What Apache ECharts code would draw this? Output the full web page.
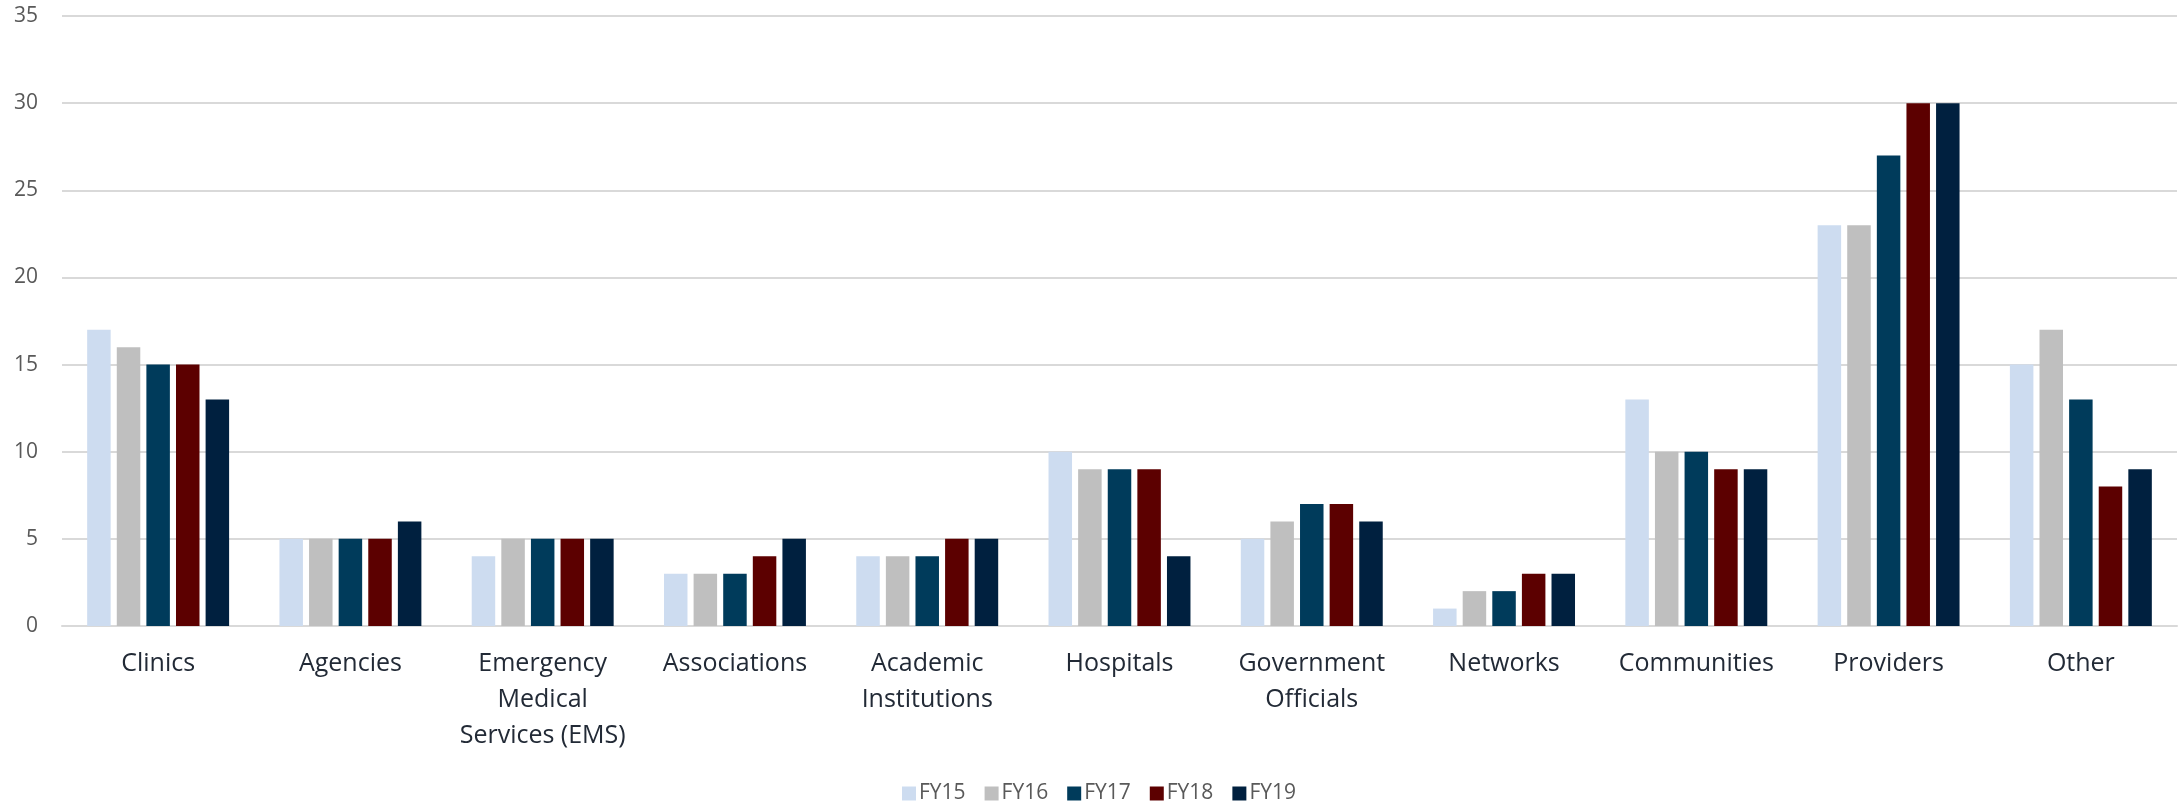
<!DOCTYPE html>
<html>
<head>
<meta charset="utf-8">
<script src="https://cdn.jsdelivr.net/npm/echarts@6/dist/echarts.min.js"></script>
<style>
  html, body { margin: 0; padding: 0; background: #ffffff; }
  #chart { width: 2178px; height: 803px; }
</style>
</head>
<body>
<div id="chart"></div>
<script>
// Stakeholder categories along the x axis
const categories = [
  'Clinics', 'Agencies', 'Emergency\nMedical\nServices (EMS)', 'Associations',
  'Academic\nInstitutions', 'Hospitals', 'Government\nOfficials', 'Networks',
  'Communities', 'Providers', 'Other'
];

// Counts per fiscal year
const fy15 = [17, 5, 4, 3, 4, 10, 5, 1, 13, 23, 15];
const fy16 = [16, 5, 5, 3, 4, 9, 6, 2, 10, 23, 17];
const fy17 = [15, 5, 5, 3, 4, 9, 7, 2, 10, 27, 13];
const fy18 = [15, 5, 5, 4, 5, 9, 7, 3, 9, 30, 8];
const fy19 = [13, 6, 5, 5, 5, 4, 6, 3, 9, 30, 9];

const seriesNames = ['FY15', 'FY16', 'FY17', 'FY18', 'FY19'];
const seriesData = [fy15, fy16, fy17, fy18, fy19];
const seriesColors = ['#cddcf0', '#bfbfbf', '#003b5b', '#5c0000', '#00203f'];

// Y axis range and step
const yMin = 0, yMax = 35, yStep = 5;

const chart = echarts.init(document.getElementById('chart'));

chart.setOption({
  animation: false,
  backgroundColor: '#ffffff',
  textStyle: { fontFamily: '"Open Sans", "Noto Sans", sans-serif' },
  grid: { left: 62, right: 1, top: 16, bottom: 177, containLabel: false },
  legend: {
    data: seriesNames,
    left: 902,
    top: 783,
    padding: 0,
    itemWidth: 14,
    itemHeight: 14,
    itemGap: 19,
    icon: 'rect',
    textStyle: { color: '#595959', fontSize: 21, padding: [0, 0, 0, -2] }
  },
  xAxis: {
    type: 'category',
    data: categories,
    axisLine: { show: true, lineStyle: { color: '#d9d9d9', width: 2 } },
    axisTick: { show: false },
    axisLabel: {
      interval: 0,
      margin: 20,
      color: '#222a36',
      fontSize: 25,
      lineHeight: 36,
      align: 'center'
    }
  },
  yAxis: {
    type: 'value',
    min: yMin,
    max: yMax,
    interval: yStep,
    axisLine: { show: false },
    axisTick: { show: false },
    axisLabel: { color: '#595959', fontSize: 21, margin: 24 },
    splitLine: { lineStyle: { color: '#d9d9d9', width: 2 } }
  },
  series: seriesNames.map((name, i) => ({
    name: name,
    type: 'bar',
    data: seriesData[i],
    barWidth: 23.5,
    barGap: '26%',
    itemStyle: { color: seriesColors[i] }
  }))
});
</script>
</body>
</html>
